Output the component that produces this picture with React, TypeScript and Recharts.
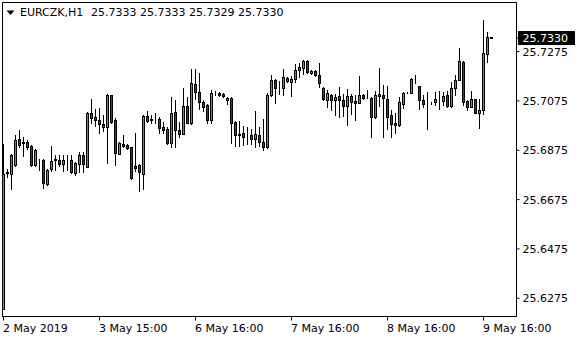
import { Bar, ComposedChart, ReferenceArea, XAxis, YAxis } from 'recharts'

// hourly EURCZK candles
const opens = [
  25.6233, 25.6782, 25.6780, 25.6816, 25.6921, 25.6905, 25.6910, 25.6894, 25.6816, 25.6834,
  25.6836, 25.6739, 25.6800, 25.6834, 25.6837, 25.6820, 25.6831, 25.6834, 25.6784, 25.6820,
  25.6854, 25.6809, 25.7027, 25.7008, 25.6999, 25.6982, 25.6971, 25.7097, 25.6999, 25.6861,
  25.6901, 25.6898, 25.6887, 25.6813, 25.6817, 25.6780, 25.7012, 25.6996, 25.7002, 25.7002,
  25.6968, 25.6962, 25.6904, 25.7032, 25.6958, 25.6942, 25.7055, 25.6987, 25.7144, 25.7113,
  25.7072, 25.7059, 25.6996, 25.7108, 25.7108, 25.7104, 25.7079, 25.7087, 25.6990, 25.6942,
  25.6946, 25.6931, 25.6935, 25.6921, 25.6938, 25.6910, 25.6887, 25.7097, 25.7158, 25.7126,
  25.7126, 25.7168, 25.7151, 25.7164, 25.7202, 25.7209, 25.7235, 25.7190, 25.7198, 25.7182,
  25.7128, 25.7079, 25.7100, 25.7077, 25.7093, 25.7077, 25.7054, 25.7093, 25.7074, 25.7068,
  25.7101, 25.7087, 25.7087, 25.7009, 25.7104, 25.7100, 25.7083, 25.7016, 25.6986, 25.6978,
  25.7063, 25.7108, 25.7108, 25.7172, 25.7134, 25.7077, 25.7066, 25.7067, 25.7069, 25.7080,
  25.7074, 25.7100, 25.7053, 25.7128, 25.7160, 25.7232, 25.7074, 25.7052, 25.7081, 25.7027,
  25.7039, 25.7266, 25.7333,
]
const highs = [
  25.6901, 25.6800, 25.6861, 25.6938, 25.6958, 25.6928, 25.6915, 25.6898, 25.6881, 25.6840,
  25.6840, 25.6800, 25.6891, 25.6857, 25.6854, 25.6854, 25.6854, 25.6857, 25.6827, 25.6867,
  25.6867, 25.7029, 25.7081, 25.7043, 25.7047, 25.7016, 25.7104, 25.7100, 25.7006, 25.6908,
  25.6938, 25.6901, 25.6889, 25.6946, 25.6820, 25.7016, 25.7036, 25.7016, 25.7025, 25.7009,
  25.6989, 25.6968, 25.7090, 25.7079, 25.6989, 25.7128, 25.7090, 25.7205, 25.7205, 25.7187,
  25.7077, 25.7061, 25.7121, 25.7114, 25.7110, 25.7106, 25.7090, 25.7090, 25.6993, 25.6993,
  25.6972, 25.6968, 25.6962, 25.7033, 25.6971, 25.7002, 25.7108, 25.7182, 25.7162, 25.7155,
  25.7205, 25.7171, 25.7174, 25.7225, 25.7229, 25.7239, 25.7239, 25.7202, 25.7202, 25.7228,
  25.7130, 25.7120, 25.7104, 25.7104, 25.7133, 25.7104, 25.7124, 25.7104, 25.7097, 25.7178,
  25.7104, 25.7120, 25.7090, 25.7117, 25.7209, 25.7141, 25.7137, 25.7040, 25.7027, 25.7089,
  25.7110, 25.7110, 25.7166, 25.7182, 25.7137, 25.7097, 25.7110, 25.7071, 25.7113, 25.7117,
  25.7110, 25.7117, 25.7153, 25.7182, 25.7288, 25.7235, 25.7077, 25.7117, 25.7083, 25.7083,
  25.7403, 25.7356, 25.7333,
]
const lows = [
  25.6230, 25.6766, 25.6719, 25.6810, 25.6887, 25.6850, 25.6881, 25.6813, 25.6811, 25.6793,
  25.6721, 25.6736, 25.6790, 25.6793, 25.6813, 25.6790, 25.6793, 25.6782, 25.6776, 25.6786,
  25.6786, 25.6806, 25.6985, 25.6975, 25.6946, 25.6952, 25.6823, 25.6985, 25.6817, 25.6858,
  25.6887, 25.6881, 25.6759, 25.6790, 25.6709, 25.6716, 25.6989, 25.6985, 25.6985, 25.6944,
  25.6944, 25.6901, 25.6887, 25.6887, 25.6928, 25.6939, 25.6985, 25.6982, 25.7083, 25.7043,
  25.7036, 25.6985, 25.6985, 25.7097, 25.7095, 25.7092, 25.7063, 25.6904, 25.6891, 25.6891,
  25.6898, 25.6901, 25.6901, 25.6890, 25.6891, 25.6877, 25.6885, 25.7093, 25.7067, 25.7104,
  25.7101, 25.7150, 25.7093, 25.7151, 25.7171, 25.7185, 25.7189, 25.7185, 25.7178, 25.7130,
  25.7079, 25.7052, 25.7039, 25.7019, 25.7009, 25.7012, 25.6978, 25.7023, 25.6998, 25.7066,
  25.7083, 25.7086, 25.6928, 25.7006, 25.7056, 25.6928, 25.6962, 25.6928, 25.6944, 25.6975,
  25.7047, 25.7106, 25.7106, 25.7147, 25.7041, 25.7052, 25.6962, 25.7063, 25.7060, 25.7043,
  25.7060, 25.7049, 25.7049, 25.7100, 25.7158, 25.7060, 25.7040, 25.7049, 25.7025, 25.6966,
  25.7023, 25.7232, 25.7329,
]
const closes = [
  25.6780, 25.6785, 25.6854, 25.6917, 25.6898, 25.6907, 25.6887, 25.6816, 25.6878, 25.6834,
  25.6742, 25.6796, 25.6831, 25.6840, 25.6820, 25.6834, 25.6831, 25.6786, 25.6824, 25.6854,
  25.6820, 25.7027, 25.7006, 25.6998, 25.6982, 25.6971, 25.7101, 25.6989, 25.6863, 25.6904,
  25.6891, 25.6885, 25.6762, 25.6804, 25.6786, 25.7012, 25.6993, 25.7002, 25.7001, 25.6964,
  25.6958, 25.6904, 25.7027, 25.6958, 25.6942, 25.7055, 25.6987, 25.7149, 25.7110, 25.7070,
  25.7052, 25.6998, 25.7108, 25.7108, 25.7097, 25.7094, 25.7087, 25.6985, 25.6938, 25.6935,
  25.6928, 25.6931, 25.6921, 25.6942, 25.6908, 25.6887, 25.7097, 25.7158, 25.7128, 25.7126,
  25.7171, 25.7155, 25.7164, 25.7202, 25.7211, 25.7235, 25.7191, 25.7198, 25.7182, 25.7148,
  25.7082, 25.7108, 25.7077, 25.7090, 25.7079, 25.7054, 25.7093, 25.7072, 25.7068, 25.7101,
  25.7087, 25.7087, 25.7009, 25.7101, 25.7093, 25.7087, 25.7009, 25.6982, 25.6978, 25.7070,
  25.7108, 25.7108, 25.7164, 25.7171, 25.7077, 25.7063, 25.7065, 25.7067, 25.7081, 25.7079,
  25.7094, 25.7053, 25.7128, 25.7158, 25.7235, 25.7070, 25.7052, 25.7081, 25.7027, 25.7040,
  25.7268, 25.7333, 25.7330,
]

const timeTicks = [0, 24, 48, 72, 96, 120]
const timeLabels = ['2 May 2019', '3 May 15:00', '6 May 16:00', '7 May 16:00', '8 May 16:00', '9 May 16:00']
const priceTicks = [25.6275, 25.6475, 25.6675, 25.6875, 25.7075, 25.7275]

const symbol = 'EURCZK,H1'
const Y_MIN = 25.6201
const Y_MAX = 25.7474
const X_MIN = -0.25
const X_MAX = 128.25

const UP = '#33b233'
const DOWN = '#d40000'
const FONT = '"DejaVu Sans", sans-serif'

const data = opens.map((o, i) => ({
  i,
  open: o,
  high: highs[i],
  low: lows[i],
  close: closes[i],
}))

const last = data[data.length - 1]

function Candle(props: any) {
  const { x, y, width, height, payload } = props
  if (!payload) return null
  const { open, close, high, low } = payload
  const top = Math.min(y, y + height)
  const h = Math.abs(height)
  const ppv = h / (high - low)
  const cx = Math.floor(x + width / 2) + 0.5
  const yO = top + (high - open) * ppv
  const yC = top + (high - close) * ppv
  const bTop = Math.round(Math.min(yO, yC))
  const bBot = Math.round(Math.max(yO, yC))
  return (
    <g>
      <line x1={cx} x2={cx} y1={Math.round(top)} y2={Math.round(top + h) + 1} stroke="#000" strokeWidth={1} />
      <rect
        x={cx - 1}
        y={bTop + 0.5}
        width={2}
        height={Math.max(bBot - bTop, 0)}
        fill={close >= open ? UP : DOWN}
        stroke="#000"
        strokeWidth={1}
      />
    </g>
  )
}

function PriceTick({ x, y, payload }: any) {
  const v = payload.value
  if (v === last.close) {
    return (
      <g>
        <rect x={x - 4.5} y={y - 7} width={57} height={14} fill="#000" />
        <text x={x} y={y} dy={4} fill="#fff" fontSize={11} fontFamily={FONT}>
          {v.toFixed(4)}
        </text>
      </g>
    )
  }
  return (
    <text x={x} y={y} dy={4} fill="#000" fontSize={11} fontFamily={FONT}>
      {v.toFixed(4)}
    </text>
  )
}

function TimeTick({ x, y, payload }: any) {
  const idx = timeTicks.indexOf(payload.value)
  return (
    <text x={x - 0.5} y={y} dy={9.5} fill="#000" fontSize={11} fontFamily={FONT}>
      {timeLabels[idx]}
    </text>
  )
}

export default function App() {
  return (
    <div style={{ position: 'absolute', left: 0, top: 0, width: 580, height: 340, background: '#fff' }}>
      <ComposedChart
        width={580}
        height={340}
        data={data}
        margin={{ top: 2.5, right: 3.5, bottom: 0, left: 2.5 }}
      >
        <XAxis
          dataKey="i"
          type="number"
          domain={[X_MIN, X_MAX]}
          allowDataOverflow
          ticks={timeTicks}
          interval={0}
          tick={<TimeTick />}
          tickSize={4}
          tickMargin={2}
          height={23.5}
          stroke="#000"
        />
        <YAxis
          orientation="right"
          type="number"
          domain={[Y_MIN, Y_MAX]}
          allowDataOverflow
          ticks={[...priceTicks, last.close]}
          interval={0}
          tick={<PriceTick />}
          tickSize={3}
          tickMargin={3}
          width={60}
          stroke="#000"
        />
        <ReferenceArea x1={X_MIN} x2={X_MAX} y1={Y_MIN} y2={Y_MAX} fill="none" stroke="#000" strokeWidth={1} />
        <Bar
          dataKey={(d: any) => [d.low, d.high]}
          barSize={3}
          shape={<Candle />}
          isAnimationActive={false}
        />
      </ComposedChart>
      <svg style={{ position: 'absolute', left: 6, top: 10 }} width={10} height={6}>
        <polygon points="0.5,0.5 8.5,0.5 4.5,5" fill="#000" />
      </svg>
      <div
        style={{
          position: 'absolute',
          left: 20,
          top: 6,
          fontFamily: FONT,
          fontSize: 11,
          color: '#000',
          whiteSpace: 'pre',
        }}
      >
        {symbol}
      </div>
      <div
        style={{
          position: 'absolute',
          left: 91,
          top: 6,
          fontFamily: FONT,
          fontSize: 11,
          color: '#000',
          whiteSpace: 'pre',
        }}
      >
        {[last.open, last.high, last.low, last.close].map((v) => v.toFixed(4)).join(' ')}
      </div>
    </div>
  )
}
